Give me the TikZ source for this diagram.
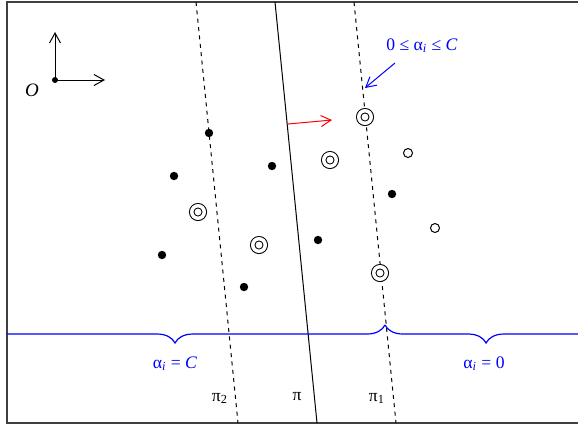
\documentclass[tikz,border=0pt]{standalone}
\usepackage{fontspec}
\setmainfont{Liberation Serif}
\usetikzlibrary{arrows.meta, calc, decorations.pathreplacing}

\begin{document}
\begin{tikzpicture}[x=0.5pt, y=-0.5pt, line width=0.5pt, >={Straight Barb[length=5pt,width=5.5pt]},
    every node/.style={font=\fontsize{8.8}{10}\selectfont},
    vec/.style={circle, fill=black, inner sep=0pt, minimum size=4.2pt},
    sv/.style={circle, draw, fill=white, double, double distance=1.75pt, inner sep=0pt, minimum size=6.25pt},
    free/.style={circle, draw, fill=white, inner sep=0pt, minimum size=4.5pt},
    margin/.style={dash pattern=on 2pt off 2.2pt},
    alphabrace/.style={blue, line width=0.6pt, decorate, decoration={brace, amplitude=9pt}}]
    \useasboundingbox (0,0) rectangle (578,425);
    \draw[black!75, line width=1pt] (578,2) -- (7,2) -- (7,423) -- (578,423);

    % axes
    \node[vec, minimum size=3pt] (o) at (55,80) {};
    \coordinate (ox) at (105,80);
    \coordinate (oy) at (55,32);
    \node[font=\fontsize{9.5}{10}\selectfont] (olabel) at (32,90) {\itshape O};
    \draw[->] (o.center) -- (ox);
    \draw[->] (o.center) -- (oy);

    % separating planes
    \coordinate (pi2t) at (196,2);   \coordinate (pi2b) at (238,423);
    \coordinate (pit) at (275,2);    \coordinate (pib) at (317,423);
    \coordinate (pi1t) at (354,2);   \coordinate (pi1b) at (396,423);
    \draw[margin] (pi2t) -- (pi2b);
    \draw (pit) -- (pib);
    \draw[margin] (pi1t) -- (pi1b);

    % normal vector
    \coordinate (w0) at ($(pit)!0.29!(pib)$);
    \coordinate (w1) at (332,120);
    \draw[->, red] (w0) -- (w1);

    % points
    \node[vec] (n1) at (209,133) {};
    \node[vec] (n2) at (174,176) {};
    \node[vec] (n3) at (272,166) {};
    \node[vec] (n4) at (162,255) {};
    \node[vec] (n5) at (244,287) {};
    \node[vec] (n6) at (318,240) {};
    \node[vec] (n7) at (392,194) {};
    \node[sv] (s1) at (198,212) {};
    \node[sv] (s2) at (259,245) {};
    \node[sv] (s3) at (330,160) {};
    \node[sv] (s4) at (365,117) {};
    \node[sv] (s5) at (380,273) {};
    \node[free] (p1) at (408,153) {};
    \node[free] (p2) at (435,228) {};

    % multipliers
    \node[blue] (bound) at (422,46) {0 ≤ α\textsubscript{\itshape i} ≤ \textit{C}};
    \coordinate (b0) at (395,63);
    \coordinate (b1) at (365,88);
    \draw[->, blue] (b0) -- (b1);

    \begin{scope}
        \clip (7,0) rectangle (578,425);
        \draw[alphabrace] (385,325) -- (-35,325);
        \draw[alphabrace, decoration={aspect=0.53}] (600,325) -- (385,325);
    \end{scope}
    \node[blue] (lowC) at (175,364) {α\textsubscript{\itshape i} = \textit{C}};
    \node[blue] (low0) at (484,364) {α\textsubscript{\itshape i} = 0};

    \node (pi2lbl) at (220,398) {π\textsubscript{2}};
    \node (pilbl) at (297,397) {π};
    \node (pi1lbl) at (377,398) {π\textsubscript{1}};
\end{tikzpicture}
\end{document}
